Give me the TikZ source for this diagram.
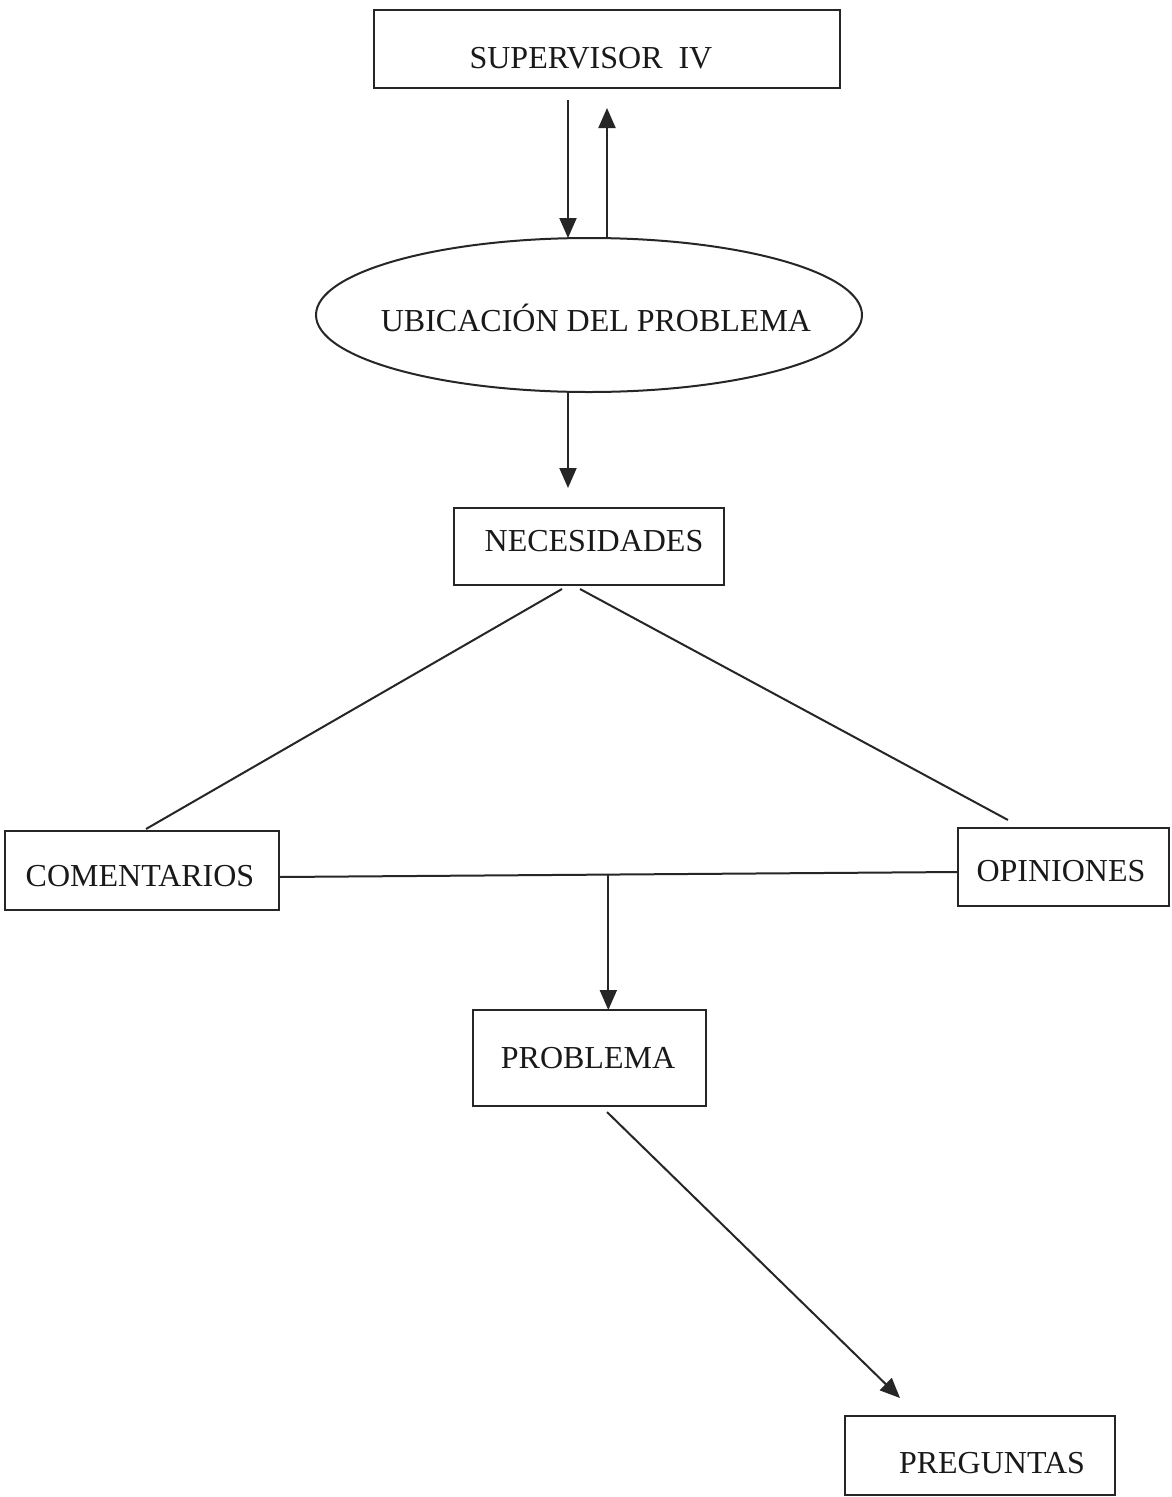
\documentclass[tikz,border=0pt]{standalone}
\usepackage{fontspec}
\setmainfont{Liberation Serif}
\usetikzlibrary{shapes.geometric,arrows.meta,calc}
\begin{document}
\begin{tikzpicture}[x=1pt,y=-1pt,
  box/.style={draw=black!85,line width=2pt,inner sep=0pt,outer sep=0pt,rectangle},
  oval/.style={draw=black!85,line width=2pt,inner sep=0pt,outer sep=0pt,ellipse},
  lbl/.style={inner sep=0pt,font=\fontsize{32}{36}\selectfont,text=black!90},
  conn/.style={draw=black!85,line width=2pt},
  arr/.style={conn,-{Triangle[length=20pt,width=17pt]}}]
\useasboundingbox (0,0) rectangle (1171,1497);
\fill[white] (0,0) rectangle (1171,1497);
% boxes
\node[box,minimum width=466pt,minimum height=78pt] (sup) at (607,49) {};
\node[oval,minimum width=546pt,minimum height=154pt] (ubi) at (589,315) {};
\node[box,minimum width=270pt,minimum height=77pt] (nec) at (589,546.5) {};
\node[box,minimum width=274pt,minimum height=79pt] (com) at (142,870.5) {};
\node[box,minimum width=211pt,minimum height=78pt] (opi) at (1063.5,867) {};
\node[box,minimum width=233pt,minimum height=96pt] (pro) at (589.5,1058) {};
\node[box,minimum width=270pt,minimum height=79pt] (pre) at (980,1455.5) {};
% labels
\node[lbl] (supT) at (591,58) {SUPERVISOR\hspace{0.5em}IV};
\node[lbl] (ubiT) at (596,318) {UBICACIÓN DEL PROBLEMA};
\node[lbl] (necT) at (594,541) {NECESIDADES};
\node[lbl] (comT) at (140,876) {COMENTARIOS};
\node[lbl] (opiT) at (1061,871) {OPINIONES};
\node[lbl] (proT) at (588,1058) {PROBLEMA};
\node[lbl] (preT) at (992,1463) {PREGUNTAS};
% connectors
\draw[arr] ($(sup.south)+(-39,12)$) -- ($(ubi.north)+(-21,0)$);
\draw[arr] ($(ubi.north)+(18,0)$) -- ($(sup.south)+(0,20)$);
\draw[arr] ($(ubi.south)+(-21,0)$) -- ($(nec.north)+(-21,-20)$);
\draw[conn] ($(nec.south)+(-27,4)$) -- ($(com.north)+(4,-2)$);
\draw[conn] ($(nec.south)+(-9,4)$) -- ($(opi.north)+(-55.5,-8)$);
\draw[conn] ($(com.east)+(0,6.5)$) coordinate (hl) -- ($(opi.west)+(0,5)$) coordinate (hr);
\coordinate (hm) at ($(hl)!0.485!(hr)$);
\draw[arr] (hm) -- (hm |- pro.north);
\draw[arr] ($(pro.south)+(17.5,6)$) -- ($(pre.north)+(-80,-18)$);
\end{tikzpicture}
\end{document}
